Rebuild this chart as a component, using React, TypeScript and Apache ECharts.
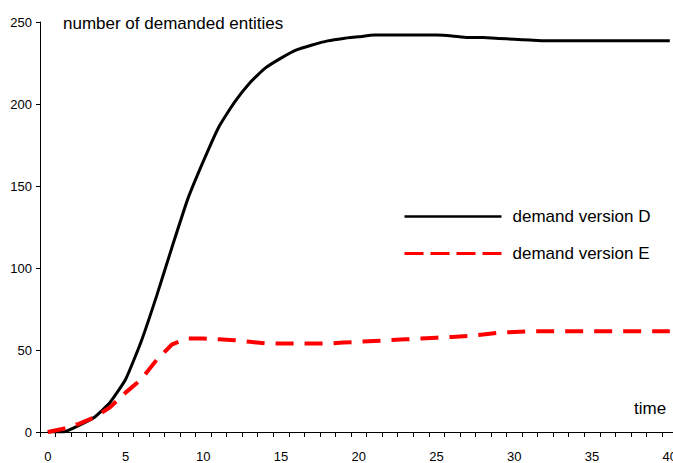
import React, { useEffect, useRef } from "react";
import * as echarts from "echarts";

const timeCategories: string[] = Array.from({ length: 41 }, (_, i) => String(i));

const demandD: number[] = [
  0, 0, 4, 9, 18, 32, 55, 83, 113, 142,
  165, 186, 201, 213, 222, 228, 233, 236, 238.5, 240,
  241, 242, 242, 242, 242, 242, 241.5, 240.5, 240.5, 240,
  239.5, 239, 238.5, 238.5, 238.5, 238.5, 238.5, 238.5, 238.5, 238.5,
  238.5,
];

const demandE: number[] = [
  0, 2, 5, 9, 15, 24, 32, 44, 53.5, 57,
  57, 56.5, 56, 55, 54, 54, 54, 54, 54, 54.5,
  55, 55.5, 56, 56.5, 57, 57.5, 58, 58.5, 59.5, 60.5,
  61, 61.5, 61.5, 61.5, 61.5, 61.5, 61.5, 61.5, 61.5, 61.5,
  61.5,
];

const seriesNames: string[] = ["demand version D", "demand version E"];
const yTitle = "number of demanded entities";
const xTitle = "time";

export default function App() {
  const ref = useRef<HTMLDivElement>(null);
  useEffect(() => {
    if (!ref.current) return;
    const chart = echarts.init(ref.current, null, { renderer: "svg" });
    const tickFont = {
      fontFamily: "'Liberation Sans Narrow', 'Arial Narrow', 'Liberation Sans', Arial, sans-serif",
      fontSize: 13,
      color: "#000",
    };
    chart.setOption({
      animation: false,
      backgroundColor: "#fff",
      grid: { left: 40, right: 0, top: 22, bottom: 28, containLabel: false },
      xAxis: {
        type: "category",
        data: timeCategories,
        boundaryGap: true,
        axisLine: { lineStyle: { color: "#000", width: 1 } },
        axisTick: { show: true, interval: 0, inside: false, length: 5, lineStyle: { color: "#000" } },
        axisLabel: { interval: 4, margin: 18, ...tickFont },
        splitLine: { show: false },
      },
      yAxis: {
        type: "value",
        min: 0,
        max: 250,
        interval: 50,
        axisLine: { show: true, lineStyle: { color: "#000", width: 1 } },
        axisTick: { show: true, length: 4, lineStyle: { color: "#000" } },
        axisLabel: { margin: 8, ...tickFont },
        splitLine: { show: false },
      },
      legend: {
        orient: "vertical",
        left: 403,
        top: 208,
        padding: 0,
        itemWidth: 97,
        itemHeight: 14,
        itemGap: 20,
        textStyle: {
          fontFamily: "'Liberation Sans', Arial, sans-serif",
          fontSize: 17,
          color: "#000",
          padding: [0, 0, 0, 6],
        },
        data: [
          {
            name: seriesNames[0],
            itemStyle: { opacity: 0 },
            lineStyle: { color: "#000", width: 2.5, type: "solid" },
          },
          {
            name: seriesNames[1],
            itemStyle: { opacity: 0 },
            lineStyle: { color: "#ff0000", width: 3, type: [19, 7] },
          },
        ],
      },
      graphic: [
        {
          type: "text",
          left: 63,
          top: 15,
          style: {
            text: yTitle,
            fontFamily: "'Liberation Sans', Arial, sans-serif",
            fontSize: 17,
            fill: "#000",
          },
        },
        {
          type: "text",
          left: 634,
          top: 400,
          style: {
            text: xTitle,
            fontFamily: "'Liberation Sans', Arial, sans-serif",
            fontSize: 17,
            fill: "#000",
          },
        },
      ],
      series: [
        {
          name: seriesNames[0],
          type: "line",
          data: demandD,
          symbol: "none",
          smooth: 0.15,
          lineStyle: { color: "#000", width: 3 },
          itemStyle: { color: "#000" },
        },
        {
          name: seriesNames[1],
          type: "line",
          data: demandE,
          symbol: "none",
          lineStyle: { color: "#ff0000", width: 4, type: [18, 11] },
          itemStyle: { color: "#ff0000" },
        },
      ],
    });
    return () => chart.dispose();
  }, []);
  return (
    <div
      ref={ref}
      style={{ position: "fixed", left: 0, top: 0, width: 680, height: 463 }}
    />
  );
}
